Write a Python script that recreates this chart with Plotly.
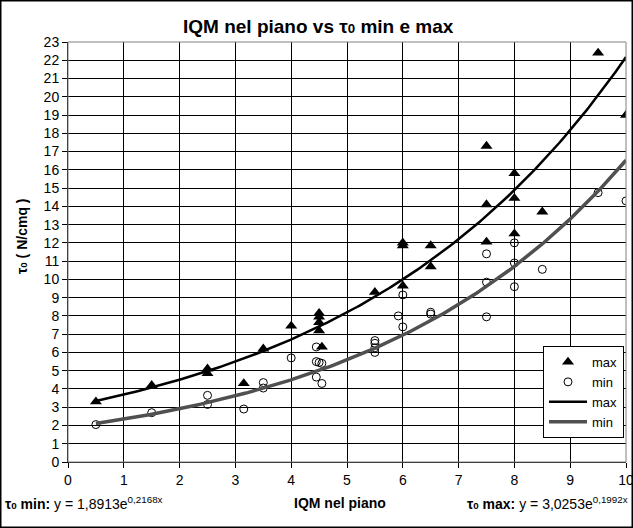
import numpy as np
import plotly.graph_objects as go

# ---- data ----
max_x = [0.5, 1.5, 2.5, 2.5, 3.15, 3.5, 4.0, 4.5, 4.5, 4.5, 4.5, 4.55, 5.5, 6.0, 6.0, 6.0,
         6.5, 6.5, 7.5, 7.5, 7.5, 8.0, 8.0, 8.0, 8.5, 9.5, 10.0]
max_y = [3.3, 4.2, 5.1, 4.85, 4.3, 6.2, 7.45, 8.15, 7.95, 7.65, 7.2, 6.3, 9.3, 12.0, 11.85, 9.65,
         11.85, 10.7, 17.3, 14.1, 12.05, 15.8, 14.45, 12.5, 13.7, 22.4, 19.0]

min_x = [0.5, 1.5, 2.5, 2.5, 3.15, 3.5, 3.5, 4.0, 4.45, 4.45, 4.5, 4.55, 4.45, 4.55, 5.5, 5.5,
         5.5, 5.5, 5.92, 6.0, 6.0, 6.5, 6.5, 7.5, 7.5, 7.5, 8.0, 8.0, 8.0, 8.5, 9.5, 10.0]
min_y = [2.05, 2.7, 3.65, 3.15, 2.9, 4.35, 4.05, 5.7, 6.3, 5.5, 5.45, 5.4, 4.65, 4.3, 6.65, 6.5,
         6.25, 6.0, 8.0, 9.15, 7.4, 8.2, 8.1, 11.4, 9.85, 7.95, 12.0, 10.9, 9.6, 10.55, 14.75, 14.3]

# exponential trendline coefficients shown on the chart (y = a * e^(b x))
max_coef = (3.0253, 0.1992)
min_coef = (1.8913, 0.2168)
trend_range = (0.5, 10.0)

x_ticks = list(range(0, 11))
y_ticks = list(range(0, 24))

# ---- figure ----
W, H = 633, 528
L, R, T, B = 68, 7, 42, 66
pw, ph = W - L - R, H - T - B

def px_x(p):
    return (p - L) / pw

def px_y(p):
    return (H - B - p) / ph

FONT = "Liberation Sans, Arial, sans-serif"
TAU0 = 'τ<span style="font-size:70%">0</span>'

xt = np.linspace(trend_range[0], trend_range[1], 200)
max_line = max_coef[0] * np.exp(max_coef[1] * xt)
min_line = min_coef[0] * np.exp(min_coef[1] * xt)

fig = go.Figure()
fig.add_trace(go.Scatter(x=max_x, y=max_y, mode="markers", name="max",
                         marker=dict(symbol="triangle-up", size=10.5, color="black")))
fig.add_trace(go.Scatter(x=min_x, y=min_y, mode="markers", name="min",
                         marker=dict(symbol="circle-open", size=8, color="black",
                                     line=dict(width=1, color="black"))))
fig.add_trace(go.Scatter(x=xt, y=max_line, mode="lines", name="max",
                         line=dict(color="black", width=2.5)))
fig.add_trace(go.Scatter(x=xt, y=min_line, mode="lines", name="min",
                         line=dict(color="#505050", width=3.5)))

fig.update_layout(
    width=W, height=H,
    margin=dict(l=L, r=R, t=T, b=B, pad=0, autoexpand=False),
    paper_bgcolor="white", plot_bgcolor="white",
    font=dict(family=FONT, size=14, color="black"),
    showlegend=True,
    legend=dict(x=px_x(543), y=px_y(346), xanchor="left", yanchor="top",
                bgcolor="white", bordercolor="black", borderwidth=1,
                font=dict(size=13), tracegroupgap=0, itemwidth=38),
)
fig.update_xaxes(range=[0, 10], tickvals=x_ticks, ticktext=[str(v) for v in x_ticks],
                 showgrid=True, gridcolor="black", gridwidth=1,
                 showline=True, linecolor="black", linewidth=1,
                 ticks="outside", ticklen=5, tickcolor="black",
                 ticklabeloverflow="allow", automargin=False,
                 zeroline=False, tickfont=dict(size=14))
fig.update_yaxes(range=[0, 23], tickvals=y_ticks, ticktext=[str(v) for v in y_ticks],
                 showgrid=True, gridcolor="black", gridwidth=1,
                 showline=True, linecolor="black", linewidth=1,
                 ticks="outside", ticklen=5, tickcolor="black",
                 ticklabeloverflow="allow", automargin=False,
                 zeroline=False, tickfont=dict(size=14))

# plot area border (gray) and outer chart frame (black)
fig.add_shape(type="rect", xref="paper", yref="paper", x0=0, x1=1, y0=0, y1=1,
              line=dict(color="#808080", width=1), layer="above")
fig.add_shape(type="rect", xref="paper", yref="paper",
              x0=px_x(0.75), x1=px_x(W - 0.75), y0=px_y(H - 0.75), y1=px_y(0.75),
              line=dict(color="black", width=1.5), layer="above")

# texts
fig.add_annotation(xref="paper", yref="paper", x=px_x(318), y=px_y(27),
                   text=f"<b>IQM nel piano vs {TAU0} min e max</b>",
                   showarrow=False, xanchor="center", yanchor="middle",
                   font=dict(size=19))
fig.add_annotation(xref="paper", yref="paper", x=px_x(22), y=px_y(237),
                   text=f"<b>{TAU0} ( N/cmq )</b>", textangle=-90,
                   showarrow=False, xanchor="center", yanchor="middle",
                   font=dict(size=14))
fig.add_annotation(xref="paper", yref="paper", x=px_x(340), y=px_y(503),
                   text="<b>IQM nel piano</b>",
                   showarrow=False, xanchor="center", yanchor="middle",
                   font=dict(size=14))
fig.add_annotation(xref="paper", yref="paper", x=px_x(3), y=px_y(503),
                   text=f"<b>{TAU0} min:</b> y = 1,8913e<sup>0,2168x</sup>",
                   showarrow=False, xanchor="left", yanchor="middle",
                   font=dict(size=14))
fig.add_annotation(xref="paper", yref="paper", x=px_x(630), y=px_y(503),
                   text=f"<b>{TAU0} max:</b> y = 3,0253e<sup>0,1992x</sup>",
                   showarrow=False, xanchor="right", yanchor="middle",
                   font=dict(size=14))

fig.write_html("out.html")
